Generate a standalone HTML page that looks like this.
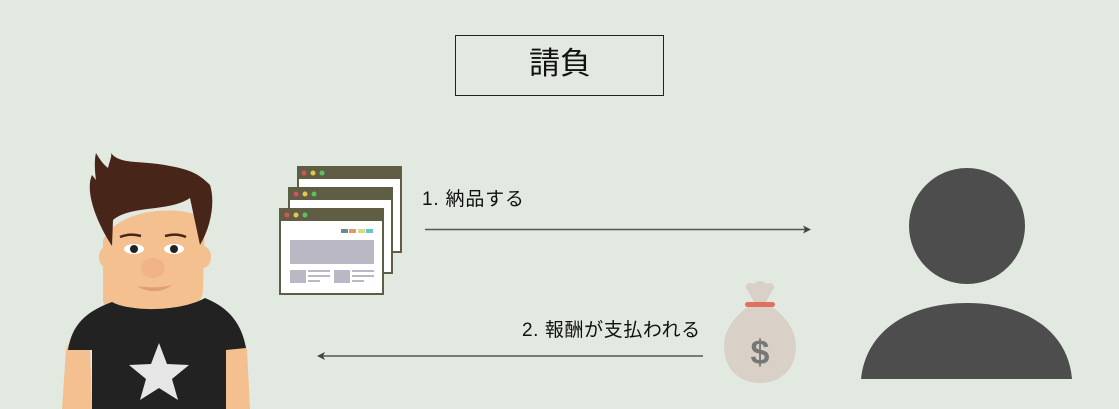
<!DOCTYPE html>
<html><head><meta charset="utf-8"><style>
html,body{margin:0;padding:0;}
body{width:1119px;height:409px;background:#e2e9e1;position:relative;overflow:hidden;font-family:"Liberation Sans","Noto Sans CJK JP",sans-serif;color:#111;}
.t{position:absolute;white-space:nowrap;}
</style></head><body>
<div style="position:absolute;left:455px;top:35px;width:207px;height:59px;border:1.5px solid #222;"></div>
<div class="t" style="left:455px;top:42px;width:210px;text-align:center;font-size:31px;line-height:44px;">請負</div>
<div class="t" style="left:422px;top:187px;font-size:19px;letter-spacing:0.8px;line-height:26px;">1. 納品する</div>
<div class="t" style="left:522px;top:318px;font-size:19px;letter-spacing:0.6px;line-height:26px;">2. 報酬が支払われる</div>
<svg width="1119" height="409" style="position:absolute;left:0;top:0">
<line x1="425" y1="229.5" x2="806" y2="229.5" stroke="#555" stroke-width="1.5"/>
<polygon points="811,229.5 803,225.5 805,229.5 803,233.5" fill="#444"/>
<line x1="322" y1="356" x2="703" y2="356" stroke="#555" stroke-width="1.5"/>
<polygon points="317,356 325,352 323,356 325,360" fill="#444"/>
<circle cx="967" cy="226" r="58" fill="#4d4d4d"/>
<path d="M861,379 C866,330 910,303 967,303 C1024,303 1068,330 1072,379 Z" fill="#4d4d4d"/>
<path d="M748,291 C742,286 749,281 754,284 C757,280 763,280 766,284 C771,281 778,286 772,291 L766,302 C780,312 796,326 796,346 C796,370 780,383 760,383 C740,383 724,370 724,346 C724,326 740,312 754,302 Z" fill="#d9d1c8"/>
<rect x="745" y="302" width="30" height="5" rx="2.5" fill="#e07060"/>
<text x="760" y="364" font-size="34" font-weight="bold" text-anchor="middle" fill="#777" font-family="Liberation Sans, sans-serif">$</text>
<rect x="298" y="167" width="103" height="85" fill="#fff" stroke="#5f5e45" stroke-width="2"/>
<rect x="298" y="167" width="103" height="12" fill="#5f5e45"/>
<rect x="289" y="188" width="103" height="85" fill="#fff" stroke="#5f5e45" stroke-width="2"/>
<rect x="289" y="188" width="103" height="12" fill="#5f5e45"/>
<circle cx="304" cy="173" r="2.5" fill="#d94f5c"/><circle cx="313" cy="173" r="2.5" fill="#e5c64a"/><circle cx="322" cy="173" r="2.5" fill="#5fbf5f"/>
<circle cx="296" cy="194" r="2.5" fill="#d94f5c"/><circle cx="305" cy="194" r="2.5" fill="#e5c64a"/><circle cx="314" cy="194" r="2.5" fill="#5fbf5f"/>
<rect x="280" y="209" width="103" height="85" fill="#fff" stroke="#5f5e45" stroke-width="2"/>
<rect x="280" y="209" width="103" height="12" fill="#5f5e45"/>
<circle cx="287" cy="215" r="2.5" fill="#d94f5c"/><circle cx="296" cy="215" r="2.5" fill="#e5c64a"/><circle cx="305" cy="215" r="2.5" fill="#5fbf5f"/>
<rect x="341" y="229" width="7" height="4" fill="#6a8c88"/><rect x="349" y="229" width="7" height="4" fill="#e09a6a"/><rect x="358" y="229" width="7" height="4" fill="#dada80"/><rect x="366" y="229" width="7" height="4" fill="#66c4cc"/>
<rect x="290" y="240" width="84" height="24" fill="#b9b8c4"/>
<rect x="290" y="270" width="16" height="13" fill="#b9b8c4"/><rect x="308" y="270" width="22" height="2" fill="#b9b8c4"/><rect x="308" y="275" width="22" height="2" fill="#b9b8c4"/><rect x="308" y="280" width="12" height="2" fill="#b9b8c4"/>
<rect x="334" y="270" width="16" height="13" fill="#b9b8c4"/><rect x="352" y="270" width="22" height="2" fill="#b9b8c4"/><rect x="352" y="275" width="22" height="2" fill="#b9b8c4"/><rect x="352" y="280" width="12" height="2" fill="#b9b8c4"/>
<path d="M62,409 L66,350 C68,340 75,340 90,345 L92,409 Z" fill="#f4c090"/>
<path d="M250,409 L247,350 C245,340 238,340 225,345 L223,409 Z" fill="#f4c090"/>
<path d="M103,240 L103,300 C104,310 115,313 155,313 C195,313 203,300 203,290 L205,220 C190,205 120,205 103,240 Z" fill="#f4c090"/>
<ellipse cx="107" cy="257" rx="8" ry="11" fill="#f4c090"/>
<ellipse cx="203" cy="257" rx="8" ry="11" fill="#f4c090"/>
<path d="M68,350 C72,325 85,312 112,302 C130,312 180,312 205,298 C230,308 242,325 246,348 L226,350 L226,409 L92,409 L92,350 Z" fill="#222"/>
<polygon points="159,343 167,364 189,365 172,379 178,400 159,388 140,400 146,379 129,365 151,364" fill="#e6e6e6"/>
<path d="M112,246 C95,220 85,190 92,175 L96,180 C94,165 95,157 96,153 C100,160 104,165 108,168 C110,160 112,156 111,153 C120,165 140,160 170,166 C192,170 200,175 210,185 C215,200 212,225 200,245 L190,198 C170,212 130,205 113,220 Z" fill="#472519"/>
<path d="M120,237 C127,234 134,234 141,236" stroke="#472519" stroke-width="2.5" fill="none"/>
<path d="M165,236 C172,234 179,234 186,237" stroke="#472519" stroke-width="2.5" fill="none"/>
<ellipse cx="134" cy="249" rx="10" ry="5" fill="#fff"/><circle cx="134" cy="249" r="4" fill="#222"/>
<ellipse cx="174" cy="249" rx="10" ry="5" fill="#fff"/><circle cx="174" cy="249" r="4" fill="#222"/>
<ellipse cx="153" cy="268" rx="12" ry="10" fill="#f0b488"/>
<path d="M137,286 C148,293 162,293 172,285 C160,288 148,288 137,286 Z" fill="#e49c72"/>
</svg>
</body></html>
